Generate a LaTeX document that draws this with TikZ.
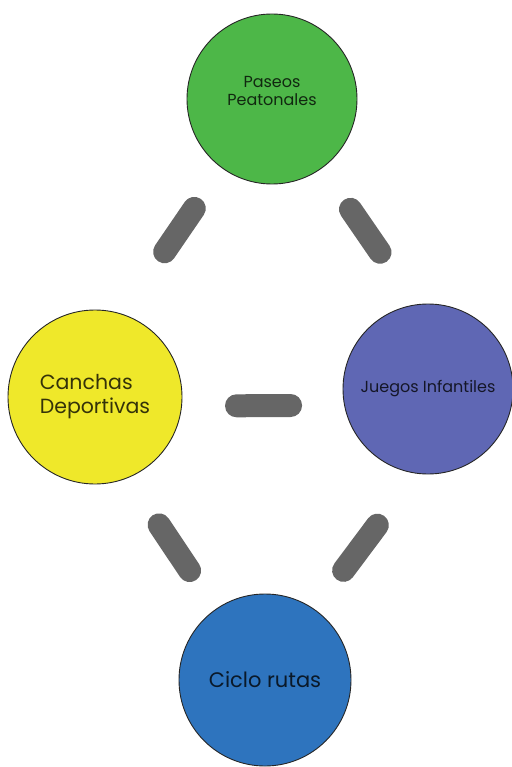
\documentclass[tikz,border=0pt]{standalone}
\usepackage{fontspec}
\setmainfont{Poppins}
\definecolor{cgreen}{HTML}{4DB748}
\definecolor{cyellow}{HTML}{EFE82A}
\definecolor{cpurple}{HTML}{5F67B4}
\definecolor{cblue}{HTML}{2E74BE}
\definecolor{cbar}{HTML}{666666}
\tikzset{
  bubble/.style={circle, draw=black!85, line width=0.9pt, inner sep=0pt, outer sep=0pt, text=black, text opacity=0.78},
  linkbar/.style={draw=cbar, line width=23pt, line cap=round},
}
\begin{document}
\begin{tikzpicture}[x=1pt, y=-1pt]
\useasboundingbox (0,0) rectangle (511,767);
\node[bubble, fill=cgreen, minimum size=170pt, align=center, font=\fontsize{16}{18}\selectfont] (g) at (272,99) {Paseos\\Peatonales\\[-2pt]};
\node[bubble, fill=cyellow, minimum size=174pt, align=left, font=\fontsize{20.5}{24}\selectfont] (y) at (95,397) {Canchas\\Deportivas};
\node[bubble, fill=cpurple, minimum size=170pt, font=\fontsize{16}{19}\selectfont] (p) at (428,389) {Juegos Infantiles};
\node[bubble, fill=cblue, minimum size=172pt, font=\fontsize{21}{24}\selectfont] (b) at (265,680) {Ciclo rutas};
\draw[linkbar, shorten <=49.2pt, shorten >=75.7pt] (g.234.9) -- (y.72.1);
\draw[linkbar, shorten <=50.4pt, shorten >=63.8pt] (g.306.7) -- (p.98.3);
\draw[linkbar, shorten <=55pt, shorten >=54pt] (y.-6) -- (p.191.5);
\draw[linkbar, shorten <=56.7pt, shorten >=46.9pt] (y.292.3) -- (b.125.9);
\draw[linkbar, shorten <=64.9pt, shorten >=48.9pt] (p.262) -- (b.55.7);
\end{tikzpicture}
\end{document}
